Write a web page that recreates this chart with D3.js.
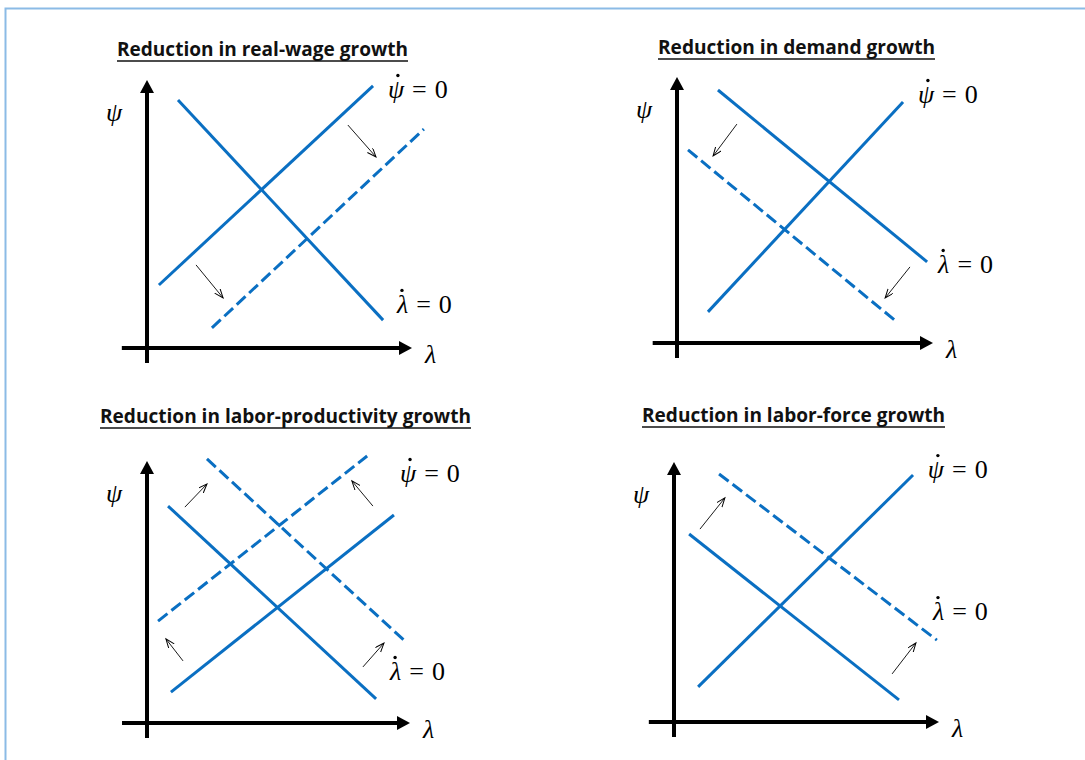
<!DOCTYPE html>
<html>
<head>
<meta charset="utf-8">
<script src="https://cdn.jsdelivr.net/npm/d3@7"></script>
<style>
  body { margin: 0; background: #fff; }
  svg { display: block; }
  .math { font-family: "Liberation Serif", "Times New Roman", "DejaVu Serif", serif; }
</style>
</head>
<body>
<div id="chart"></div>
<script>
// Four phase diagrams: how the psi-dot / lambda-dot nullclines shift

const titles = [
  "Reduction in real-wage growth",
  "Reduction in demand growth",
  "Reduction in labor-productivity growth",
  "Reduction in labor-force growth"
];

// nullcline segments, axis units 0-10: [x1, y1, x2, y2, dashed]
const wageLines = [
  [0.45, 2.35, 8.53, 9.78, false],
  [1.17, 9.25, 8.91, 1.04, false],
  [2.45, 0.75, 10.45, 8.17, true]
];
const demandLines = [
  [1.60, 9.51, 9.77, 3.05, false],
  [1.21, 1.17, 8.83, 9.06, false],
  [0.43, 7.26, 8.59, 0.79, true]
];
const productivityLines = [
  [0.80, 8.28, 8.71, 0.92, false],
  [0.91, 1.18, 9.39, 7.94, false],
  [2.28, 10.08, 9.89, 3.05, true],
  [0.42, 3.89, 8.37, 10.19, true]
];
const laborForceLines = [
  [0.57, 7.23, 8.49, 0.85, false],
  [0.91, 1.35, 9.02, 9.50, false],
  [1.70, 9.54, 9.92, 3.15, true]
];

// small shift arrows: [x1, y1, x2, y2]
const wageShifts = [[7.58, 8.32, 8.64, 7.13], [1.85, 3.10, 2.87, 1.87]];
const demandShifts = [[2.34, 8.23, 1.41, 7.03], [9.10, 2.86, 8.13, 1.69]];
const productivityShifts = [
  [1.44, 8.24, 2.28, 9.12], [8.59, 8.28, 7.79, 9.24],
  [1.37, 2.37, 0.72, 3.21], [8.21, 2.14, 9.01, 3.05]
];
const laborForceShifts = [[0.98, 7.42, 1.92, 8.62], [8.23, 1.85, 9.13, 3.04]];

// nullcline labels: [symbol, x, y]
const wageLabels = [["ψ", 9.09, 9.33], ["λ", 9.43, 1.31]];
const demandLabels = [["ψ", 9.41, 9.02], ["λ", 10.2, 2.63]];
const productivityLabels = [["ψ", 9.62, 9.20], ["λ", 9.24, 1.64]];
const laborForceLabels = [["ψ", 9.58, 9.38], ["λ", 9.77, 3.92]];

// layout: axis origin, axis length to arrow tip, title placement
const panels = [
  { ox: 147, oy: 348, w: 265, h: 268, tx: 262.5, ty: 56, tw: 291, lines: wageLines, shifts: wageShifts, labels: wageLabels },
  { ox: 677, oy: 343, w: 256, h: 266, tx: 796.5, ty: 54, tw: 277, lines: demandLines, shifts: demandShifts, labels: demandLabels },
  { ox: 147, oy: 723, w: 263, h: 262, tx: 285.5, ty: 423, tw: 371, lines: productivityLines, shifts: productivityShifts, labels: productivityLabels },
  { ox: 674, oy: 722, w: 265, h: 260, tx: 793.5, ty: 422, tw: 303, lines: laborForceLines, shifts: laborForceShifts, labels: laborForceLabels }
];

const width = 1085, height = 760;
const blue = "#0a6fc2";

const svg = d3.select("#chart")
  .append("svg")
  .attr("width", width)
  .attr("height", height);

svg.append("defs").append("marker")
  .attr("id", "shift-head")
  .attr("markerUnits", "userSpaceOnUse")
  .attr("markerWidth", 12)
  .attr("markerHeight", 10)
  .attr("refX", 9)
  .attr("refY", 3.5)
  .attr("orient", "auto")
  .append("path")
  .attr("d", "M0,0 L9,3.5 L0,7")
  .attr("fill", "none")
  .attr("stroke", "#000")
  .attr("stroke-width", 1);

// light blue frame (top and left only)
svg.append("path")
  .attr("d", `M5.5,${height} V8.5 H${width}`)
  .attr("fill", "none")
  .attr("stroke", "#8bbbe6")
  .attr("stroke-width", 2);

panels.forEach((p, i) => {
  const x = d3.scaleLinear().domain([0, 10]).range([p.ox, p.ox + p.w]);
  const y = d3.scaleLinear().domain([0, 10]).range([p.oy, p.oy - p.h]);
  const g = svg.append("g");

  // title with underline
  g.append("text")
    .attr("x", p.tx)
    .attr("y", p.ty)
    .attr("text-anchor", "middle")
    .attr("font-family", "'Open Sans', sans-serif")
    .attr("font-weight", "bold")
    .attr("font-size", 19)
    .attr("textLength", p.tw)
    .attr("lengthAdjust", "spacingAndGlyphs")
    .attr("fill", "#111")
    .text(titles[i]);
  g.append("line")
    .attr("x1", p.tx - p.tw / 2).attr("x2", p.tx + p.tw / 2)
    .attr("y1", p.ty + 5).attr("y2", p.ty + 5)
    .attr("stroke", "#111")
    .attr("stroke-width", 1.5);

  // axes
  const axes = g.append("g").attr("stroke", "#000").attr("stroke-width", 4);
  axes.append("line")
    .attr("x1", x(-0.95)).attr("x2", x(10) - 10)
    .attr("y1", y(0)).attr("y2", y(0));
  axes.append("line")
    .attr("x1", x(0)).attr("x2", x(0))
    .attr("y1", y(0) + 15).attr("y2", y(10) + 10);
  g.append("path")
    .attr("d", `M${x(10)},${y(0)} l-13,-7 v14 Z`)
    .attr("fill", "#000");
  g.append("path")
    .attr("d", `M${x(0)},${y(10)} l-7,13 h14 Z`)
    .attr("fill", "#000");

  g.append("text")
    .attr("class", "math")
    .attr("x", x(0) - 41)
    .attr("y", y(10) + 41)
    .attr("font-style", "italic")
    .attr("font-size", 26)
    .text("ψ");
  g.append("text")
    .attr("class", "math")
    .attr("x", x(10) + 13)
    .attr("y", y(0) + 15)
    .attr("font-style", "italic")
    .attr("font-size", 26)
    .text("λ");

  // nullclines
  g.append("g")
    .selectAll("line")
    .data(p.lines)
    .join("line")
    .attr("x1", d => x(d[0]))
    .attr("y1", d => y(d[1]))
    .attr("x2", d => x(d[2]))
    .attr("y2", d => y(d[3]))
    .attr("stroke", blue)
    .attr("stroke-width", 3)
    .attr("stroke-dasharray", d => d[4] ? "12,5" : null);

  // shift arrows
  g.append("g")
    .selectAll("line")
    .data(p.shifts)
    .join("line")
    .attr("x1", d => x(d[0]))
    .attr("y1", d => y(d[1]))
    .attr("x2", d => x(d[2]))
    .attr("y2", d => y(d[3]))
    .attr("stroke", "#000")
    .attr("stroke-width", 0.9)
    .attr("marker-end", "url(#shift-head)");

  // "x-dot = 0" labels, dot drawn over the glyph
  g.append("g")
    .selectAll("g")
    .data(p.labels)
    .join("g")
    .each(function (d) {
      const lg = d3.select(this);
      const t = lg.append("text")
        .attr("class", "math")
        .attr("x", x(d[1]))
        .attr("y", y(d[2]))
        .attr("font-size", 26);
      t.append("tspan").attr("font-style", "italic").text(d[0]);
      t.append("tspan").attr("dx", 8).text("=");
      t.append("tspan").attr("dx", 8).text("0");
      const box = t.node().getExtentOfChar(0);
      lg.append("circle")
        .attr("cx", box.x + box.width * (d[0] === "ψ" ? 0.62 : 0.45))
        .attr("cy", y(d[2]) - 22.5)
        .attr("r", 1.7)
        .attr("fill", "#000");
    });
});
</script>
</body>
</html>
